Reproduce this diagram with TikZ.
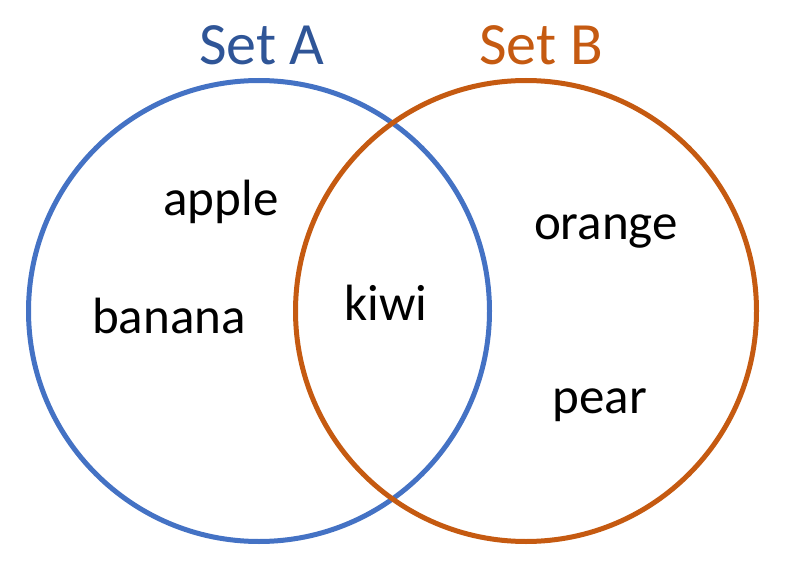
\documentclass[tikz,border=0pt]{standalone}
\usepackage{fontspec}
\setmainfont{Carlito}
\usepackage{tikz}
\usetikzlibrary{positioning}
\definecolor{setblue}{RGB}{68,114,196}
\definecolor{setbluedark}{RGB}{47,85,151}
\definecolor{setorange}{RGB}{197,90,17}

\tikzset{
  setring/.style={circle,draw,line width=5pt,inner sep=0pt,minimum size=461pt},
  settitle/.style={anchor=base,font=\fontsize{60}{72}\selectfont},
  item/.style={anchor=base,font=\fontsize{51}{60}\selectfont}
}

\begin{document}
\begin{tikzpicture}[x=1pt,y=-1pt]
  \useasboundingbox (0,0) rectangle (800,572);

  % the two sets
  \node[setring,setblue] (ringA) at (259,311) {};
  \node[setring,setorange] (ringB) at (526,311) {};

  \node[settitle,setbluedark] (titleA) at (262,65) {Set A};
  \node[settitle,setorange] (titleB) at (541,65) {Set B};

  % members
  \node[item] (apple) at (221,215) {apple};
  \node[item] (banana) at (169,333) {banana};
  \node[item] (kiwi) at (386,320) {kiwi};
  \node[item] (orange) at (606,239) {orange};
  \node[item] (pear) at (600,413) {pear};
\end{tikzpicture}
\end{document}
